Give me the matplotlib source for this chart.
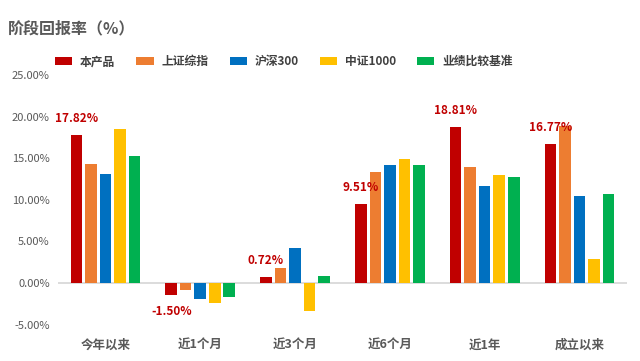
import numpy as np
import matplotlib as mpl
mpl.use('Agg')
import matplotlib.pyplot as plt
from matplotlib.ticker import FuncFormatter

plt.rcParams['font.family'] = ['Noto Sans CJK SC', 'DejaVu Sans']
plt.rcParams['axes.unicode_minus'] = False


# --- data

periods = ['今年以来', '近1个月', '近3个月', '近6个月', '近1年', '成立以来']

series_names = ['本产品', '上证综指', '沪深300', '中证1000', '业绩比较基准']

product = [17.82, -1.50, 0.72, 9.51, 18.81, 16.77]
sh_comp = [14.3, -0.85, 1.8, 13.4, 13.9, 18.9]
csi300 = [13.1, -1.9, 4.2, 14.2, 11.7, 10.4]
csi1000 = [18.5, -2.4, -3.4, 14.9, 13.0, 2.9]
benchmark = [15.3, -1.7, 0.85, 14.2, 12.8, 10.7]

colors = ['#C00000', '#ED7D31', '#0070C0', '#FFC000', '#00B050']

y_ticks = [-5, 0, 5, 10, 15, 20, 25]


# --- figure

fig = plt.figure(figsize=(6.4, 3.61), dpi=100)
ax = fig.add_axes((0.0906, 0.101, 0.889, 0.691))

all_series = [product, sh_comp, csi300, csi1000, benchmark]

x = np.arange(len(periods))
step = 0.153
width = 0.122

handles = []
for i, (vals, c) in enumerate(zip(all_series, colors)):
    b = ax.bar(x + (i - 2) * step, vals, width=width, color=c, label=series_names[i], zorder=2)
    handles.append(b)

# --- value labels for the product only

for xi, v in zip(x, product):
    off = 7 if v >= 0 else -7
    ax.annotate(f'{v:.2f}%', (xi - 2 * step, v), xytext=(0, off), textcoords='offset points',
                ha='center', va='bottom' if v >= 0 else 'top',
                color='#C00000', fontsize=8.5, fontweight='bold', zorder=3)

ax.axhline(0, color='#D9D9D9', lw=1.3, zorder=1)

ax.set_xlim(-0.5, len(periods) - 0.5)
ax.set_ylim(-5, 25)
ax.set_yticks(y_ticks)
ax.yaxis.set_major_formatter(FuncFormatter(lambda v, p: f'{v:.2f}%'))
ax.set_xticks(x)
ax.set_xticklabels(periods, fontsize=9, fontweight='bold', color='#595959')
ax.tick_params(axis='y', labelsize=8, labelcolor='#595959', length=0, pad=6)
ax.tick_params(axis='x', length=0, pad=10)

for s in ax.spines.values():
    s.set_visible(False)

# --- legend and title

fig.legend(handles=handles, loc='center left', bbox_to_anchor=(0.086, 0.829), ncol=5,
           frameon=False, handlelength=1.45, handleheight=0.6, handletextpad=0.68,
           columnspacing=1.78, borderpad=0, borderaxespad=0,
           prop={'size': 8.5, 'weight': 'bold'}, labelcolor='#404040')

fig.text(0.012, 0.922, '阶段回报率（%）', fontsize=11.5, fontweight='bold', color='#595959',
         ha='left', va='center')

fig.savefig('out.png', dpi=100)
